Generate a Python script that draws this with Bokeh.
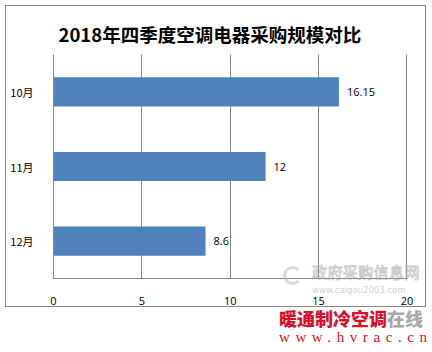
from bokeh.plotting import figure
from bokeh.models import FactorRange, Range1d, FixedTicker, ColumnDataSource, LabelSet, Div
from bokeh.layouts import column
from bokeh.embed import file_html
from bokeh.resources import INLINE
from bokeh.core.properties import value

months = ["10月", "11月", "12月"]
amounts = [16.15, 12, 8.6]
amount_labels = ["16.15", "12", "8.6"]
x_ticks = [0, 5, 10, 15, 20]
title_text = "2018年四季度空调电器采购规模对比"
brand_red = "暖通制冷空调"
brand_gray = "在线"
brand_url = "www.hvrac.cn"
mark_name = "政府采购信息网"
mark_url = "www.caigou2003.com"

GRAY = "#868686"
BLUE = "#4f81bd"
FONT = "Open Sans"
CJK = "Noto Sans CJK SC"

src = ColumnDataSource(dict(month=months, amount=amounts, label=amount_labels))

p = figure(width=421, height=302, y_range=FactorRange(*months[::-1]), x_range=Range1d(0, 20.03),
           output_backend="svg", toolbar_location=None,
           min_border_left=47, min_border_right=20, min_border_top=48, min_border_bottom=30,
           styles={"border": "1px solid #868686"}, margin=(5, 0, 0, 5))
p.outline_line_color = None
p.background_fill_color = "white"
p.border_fill_color = "white"

p.title.text = title_text
p.title.align = "left"
p.title.offset = 5
p.title.standoff = 16
p.title.text_font = CJK
p.title.text_font_size = "18.5px"
p.title.text_font_style = "bold"
p.title.text_color = "#000000"

p.hbar(y="month", left=0, right="amount", height=0.39, source=src, fill_color=BLUE, line_color=None)
p.add_layout(LabelSet(x="amount", y="month", text="label", source=src, x_offset=8,
                      text_baseline="middle", text_font_size="11px", text_font=value(FONT), text_color="#000000"))

p.xaxis.ticker = FixedTicker(ticks=x_ticks)
p.xaxis.major_tick_line_color = None
p.xaxis.minor_tick_line_color = None
p.xaxis.axis_line_color = GRAY
p.xaxis.major_label_text_font_size = "11px"
p.xaxis.major_label_text_font = FONT
p.xaxis.major_label_text_color = "#000000"
p.xaxis.major_label_standoff = 12

p.yaxis.major_tick_line_color = None
p.yaxis.minor_tick_line_color = None
p.yaxis.axis_line_color = GRAY
p.yaxis.major_label_text_font_size = "11px"
p.yaxis.major_label_text_font = CJK
p.yaxis.major_label_text_color = "#000000"
p.yaxis.major_label_standoff = 14

p.ygrid.grid_line_color = None
p.xgrid.ticker = FixedTicker(ticks=x_ticks)
p.xgrid.grid_line_color = GRAY

html = (
    '<div style="position:relative;width:432px;height:43px;">'
    # faint source watermark overlapping the chart bottom
    '<div style="position:absolute;left:283px;top:-43px;width:142px;height:32px;opacity:0.55;">'
    '<div style="position:absolute;left:0px;top:2px;width:19px;height:19px;border:3px solid #bdbdbd;'
    'border-radius:50%;border-right-color:transparent;"></div>'
    '<div style="position:absolute;left:29px;top:0px;font-family:\'Noto Sans CJK SC\';font-size:15px;'
    'line-height:16px;color:#ffffff;-webkit-text-stroke:0.8px #9a9a9a;letter-spacing:0.4px;white-space:nowrap;">'
    + mark_name + '</div>'
    '<div style="position:absolute;left:29px;top:22px;font-family:\'DejaVu Sans\';font-size:8.5px;'
    'line-height:9px;color:#a8a8a8;white-space:nowrap;">' + mark_url + '</div>'
    '</div>'
    # brand watermark
    '<div style="position:absolute;left:279px;top:1px;width:150px;">'
    '<div style="font-family:\'Noto Sans CJK SC\';font-weight:900;font-size:18px;line-height:20px;'
    'color:#d8102a;white-space:nowrap;">' + brand_red +
    '<span style="color:#a8a8a8;">' + brand_gray + '</span></div>'
    '<div style="font-family:\'Liberation Serif\';font-size:15px;line-height:18px;color:#d8102a;'
    'letter-spacing:5.6px;white-space:nowrap;">' + brand_url + '</div>'
    '</div>'
    '</div>'
)
wm = Div(text=html, width=432, height=43, margin=0)

layout = column(p, wm, spacing=0)

out = open("out.html", "w")
out.write(file_html(layout, INLINE))
out.close()
